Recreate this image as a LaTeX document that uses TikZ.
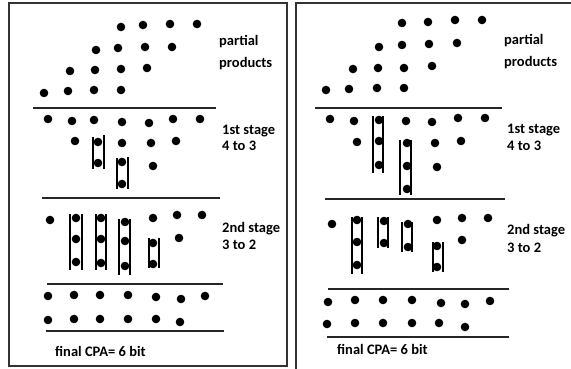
\documentclass[tikz,border=0pt]{standalone}
\usepackage{fontspec}
\setmainfont{Carlito}
\begin{document}
\begin{tikzpicture}[x=1pt,y=-1pt,
  dot/.style={circle,fill=black,inner sep=0pt,minimum size=8.6pt},
  rule/.style={line width=1.7pt,black!85},
  brk/.style={line width=1.3pt,black},
  lbl/.style={anchor=base west,inner sep=0pt,font=\fontsize{14.5}{16}\selectfont\bfseries},
  frame/.style={line width=1.2pt,black!80}]
\useasboundingbox (0,0) rectangle (571,368);
% frames
\draw[frame] (9,3) rectangle (287,366);
\draw[frame] (296,370) -- (296,3) -- (572,3);

% ---------------- left panel ----------------
\foreach \x/\y [count=\i] in {121/27,143/25,170/24,197/24, 96/50,118/48,145/47,172/47,
  70/71,95/70,121/69,147/68, 44/93,68/91,94/90,121/90}
  \node[dot] (Lp\i) at (\x,\y) {};
\foreach \x/\y [count=\i] in {48/119,72/121,94/120,122/122,149/123,173/119,200/119,
  75/141,98/142,122/143,151/143,176/141, 98/163,122/162,153/166, 122/184}
  \node[dot] (La\i) at (\x,\y) {};
\foreach \x/\y [count=\i] in {50/220,76/218,101/218,125/222,153/218,177/215,202/215,
  76/239,101/239,125/241,153/243,179/238, 76/262,101/263,125/266,153/264}
  \node[dot] (Lb\i) at (\x,\y) {};
\foreach \x/\y [count=\i] in {48/296,74/295,100/295,128/295,156/297,181/299,205/296,
  48/320,74/319,100/319,128/319,156/319,180/322}
  \node[dot] (Lc\i) at (\x,\y) {};
% rules
\draw[rule] (33,108) -- (216,108);
\draw[rule] (42,198) -- (220,198);
\draw[rule] (47,284) -- (223,284);
\draw[rule] (46,331) -- (224,331);
% brackets stage 1
\draw[brk] (93,137) -- (93,169) (104,135) -- (104,169);
\draw[brk] (117,158) -- (117,189) (128,157) -- (128,189);
% brackets stage 2
\draw[brk] (70,214) -- (70,270) (82,214) -- (82,270);
\draw[brk] (96,214) -- (96,270) (106,214) -- (106,270);
\draw[brk] (119,219) -- (119,275) (130,219) -- (130,275);
\draw[brk] (149,238) -- (149,268) (159,238) -- (159,268);
% labels
\node[lbl] (Lt1) at (219,45) {partial};
\node[lbl] (Lt2) at (219,67) {products};
\node[lbl] (Lt3) at (222,134) {1st stage};
\node[lbl] (Lt4) at (222,150) {4 to 3};
\node[lbl] (Lt5) at (222,232) {2nd stage};
\node[lbl] (Lt6) at (222,249) {3 to 2};
\node[lbl] (Lt7) at (55,356) {final CPA= 6 bit};

% ---------------- right panel ----------------
\foreach \x/\y [count=\i] in {402/23,428/22,455/20,482/20, 379/47,402/45,429/44,457/43,
  353/69,378/68,404/68,432/66, 326/90,349/89,377/88,404/88}
  \node[dot] (Rp\i) at (\x,\y) {};
\foreach \x/\y [count=\i] in {330/119,354/121,379/120,406/121,432/122,458/118,485/118,
  357/142,379/141,407/143,435/143,461/141, 379/165,407/166,437/167, 407/189}
  \node[dot] (Ra\i) at (\x,\y) {};
\foreach \x/\y [count=\i] in {332/224,357/220,384/221,408/224,437/220,462/218,488/218,
  357/242,384/243,408/247,437/246,462/240, 357/265,437/267}
  \node[dot] (Rb\i) at (\x,\y) {};
\foreach \x/\y [count=\i] in {328/302,355/300,383/300,412/300,441/303,465/304,490/301,
  327/324,355/323,383/323,412/323,439/323,465/327}
  \node[dot] (Rc\i) at (\x,\y) {};
% rules
\draw[rule] (315,108) -- (502,108);
\draw[rule] (325,199) -- (505,199);
\draw[rule] (328,289) -- (509,289);
\draw[rule] (327,337) -- (509,337);
% brackets stage 1
\draw[brk] (373,116) -- (373,173) (383,116) -- (383,173);
\draw[brk] (400,140) -- (400,195) (411,140) -- (411,195);
% brackets stage 2
\draw[brk] (352,217) -- (352,274) (362,217) -- (362,274);
\draw[brk] (378,217) -- (378,248) (388,217) -- (388,248);
\draw[brk] (402,222) -- (402,252) (412,222) -- (412,252);
\draw[brk] (433,242) -- (433,272) (443,242) -- (443,272);
% labels
\node[lbl] (Rt1) at (504,44) {partial};
\node[lbl] (Rt2) at (504,66) {products};
\node[lbl] (Rt3) at (507,133) {1st stage};
\node[lbl] (Rt4) at (507,150) {4 to 3};
\node[lbl] (Rt5) at (507,234) {2nd stage};
\node[lbl] (Rt6) at (507,252) {3 to 2};
\node[lbl] (Rt7) at (337,354) {final CPA= 6 bit};
\end{tikzpicture}
\end{document}
